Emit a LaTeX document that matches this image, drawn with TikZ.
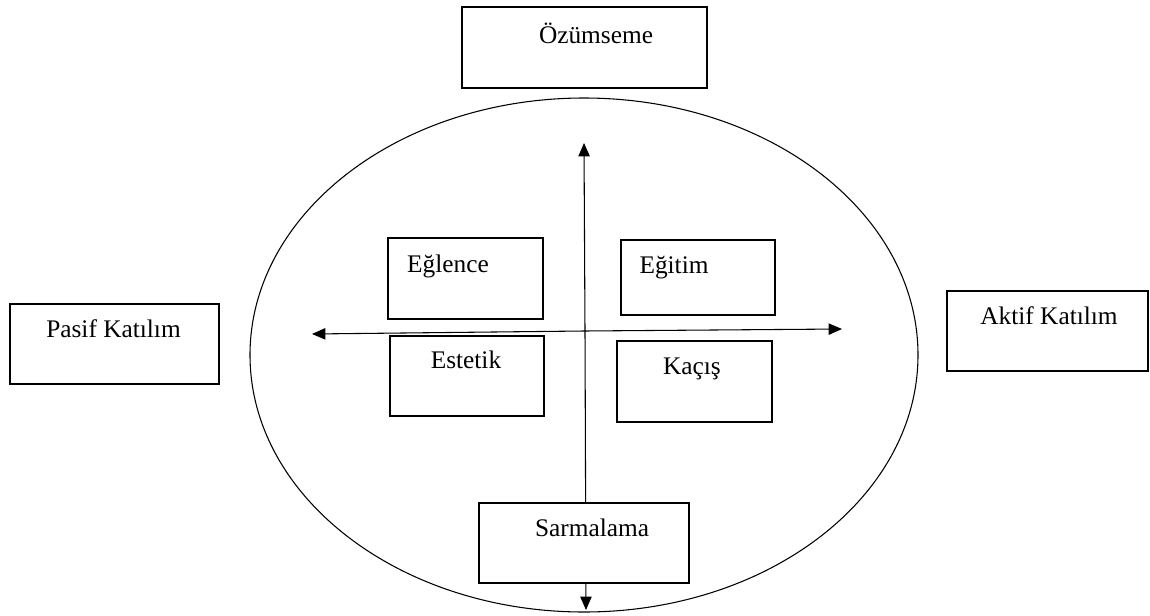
\documentclass[tikz,border=0pt]{standalone}
\usepackage{fontspec}
\setmainfont{Liberation Serif}
\usetikzlibrary{arrows.meta,shapes.geometric}
\begin{document}
\begin{tikzpicture}[x=0.75pt,y=-0.75pt,
  box/.style={draw, line width=0.8pt, fill=white, inner sep=0pt},
  lbl/.style={anchor=base, inner sep=0pt, font=\fontsize{19pt}{22pt}\selectfont},
  axis/.style={line width=0.8pt, -{Triangle[length=10pt,width=8.5pt]}}]
\useasboundingbox (0,0) rectangle (1150,615);
% ellipse
\node[draw, ellipse, line width=0.8pt, minimum width=501pt, minimum height=385.5pt, inner sep=0pt] (ell) at (584,355) {};
% axes
\coordinate (vtop) at (584,143);
\coordinate (vbot) at (586,610);
\coordinate (hl) at (312,334);
\coordinate (hr) at (842,329);
\coordinate (hc) at (584,331);
\coordinate (vc) at (585,331);
\draw[axis] (hc) -- (hl);
\draw[axis] (hc) -- (hr);
\draw[axis] (vc) -- (vtop);
\draw[axis] (vc) -- (vbot);
% boxes
\draw[box] (462,7) rectangle (707,88);
\draw[box] (10,304) rectangle (219,384);
\draw[box] (947,291) rectangle (1148,371);
\draw[box] (388,238) rectangle (543,319);
\draw[box] (621,240) rectangle (775,315);
\draw[box] (390,336) rectangle (544,416);
\draw[box] (617,341) rectangle (772,422);
\draw[box] (479,503) rectangle (689,583);
% labels
\node[lbl] (oz) at (596,43) {Özümseme};
\node[lbl] (pk) at (113.5,337) {Pasif Katılım};
\node[lbl] (ak) at (1049,324) {Aktif Katılım};
\node[lbl] (eg) at (448,272) {Eğlence};
\node[lbl] (ei) at (674,273) {Eğitim};
\node[lbl] (es) at (466,368) {Estetik};
\node[lbl] (kc) at (692,374) {Kaçış};
\node[lbl] (sr) at (592,536) {Sarmalama};
\end{tikzpicture}
\end{document}
